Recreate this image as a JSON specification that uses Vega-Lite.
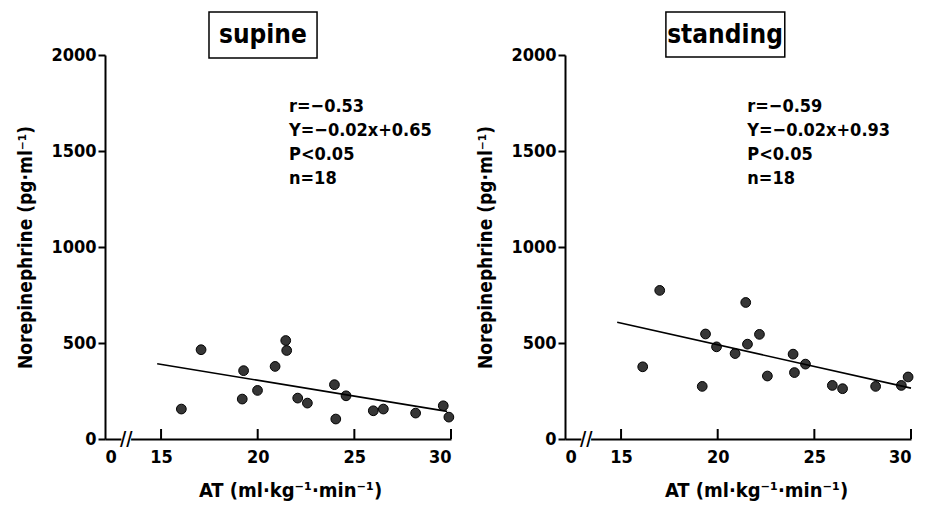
{
  "$schema": "https://vega.github.io/schema/vega-lite/v6.json",
  "padding": {"left": 16, "top": 11, "right": 5, "bottom": 5},
  "background": "white",
  "config": {
    "font": "DejaVu Sans Condensed, Roboto",
    "view": {"stroke": null},
    "concat": {"spacing": 20},
    "text": {"font": "DejaVu Sans Condensed, Roboto"},
    "axis": {
      "grid": false,
      "domainColor": "#000",
      "domainWidth": 2,
      "tickColor": "#000",
      "tickWidth": 2,
      "labelColor": "#000",
      "labelFont": "DejaVu Sans Condensed, Roboto",
      "labelFontWeight": "bold",
      "labelFontSize": 18,
      "titleColor": "#000",
      "titleFont": "DejaVu Sans Condensed, Roboto",
      "titleFontWeight": "bold",
      "titleFontSize": 20
    }
  },
  "datasets": {
    "supine": [
      {"at": 16.05, "ne": 156},
      {"at": 17.07, "ne": 465},
      {"at": 19.27, "ne": 356},
      {"at": 19.2, "ne": 208},
      {"at": 19.99, "ne": 253},
      {"at": 20.9, "ne": 378},
      {"at": 21.45, "ne": 513},
      {"at": 21.5, "ne": 461},
      {"at": 22.07, "ne": 213},
      {"at": 22.57, "ne": 187},
      {"at": 23.97, "ne": 283},
      {"at": 24.04, "ne": 104},
      {"at": 24.57, "ne": 225},
      {"at": 25.98, "ne": 147},
      {"at": 26.5, "ne": 156},
      {"at": 28.17, "ne": 135},
      {"at": 29.6, "ne": 173},
      {"at": 29.89, "ne": 114}
    ],
    "supine_fit": [
      {"at": 14.8, "ne": 392},
      {"at": 29.8, "ne": 144}
    ],
    "standing": [
      {"at": 16.12, "ne": 376},
      {"at": 17.0, "ne": 774},
      {"at": 19.37, "ne": 547},
      {"at": 19.2, "ne": 274},
      {"at": 19.94, "ne": 480},
      {"at": 20.9, "ne": 445},
      {"at": 21.45, "ne": 711},
      {"at": 21.54, "ne": 494},
      {"at": 22.16, "ne": 545},
      {"at": 22.57, "ne": 328},
      {"at": 23.9, "ne": 442},
      {"at": 23.97, "ne": 346},
      {"at": 24.54, "ne": 390},
      {"at": 25.93, "ne": 279},
      {"at": 26.46, "ne": 262},
      {"at": 28.17, "ne": 274},
      {"at": 29.5, "ne": 279},
      {"at": 29.85, "ne": 323}
    ],
    "standing_fit": [
      {"at": 14.8, "ne": 608},
      {"at": 30.0, "ne": 265}
    ]
  },
  "hconcat": [
    {
      "width": 346,
      "height": 384,
      "resolve": {"axis": {"x": "independent", "y": "independent"}},
      "layer": [
        {
          "data": {"name": "supine"},
          "mark": {"type": "circle", "size": 95, "fill": "#363636", "stroke": "#000", "strokeWidth": 1, "opacity": 1},
          "encoding": {
            "x": {
              "field": "at",
              "type": "quantitative",
              "scale": {"domain": [12.1, 30], "nice": false, "zero": false},
              "axis": {
                "orient": "bottom",
                "title": "AT (ml·kg⁻¹·min⁻¹)",
                "values": [12.1, 15, 20, 25, 30],
                "format": "d",
                "labelExpr": "datum.value < 14 ? '0' : datum.label",
                "ticks": false,
                "labelPadding": 9,
                "titleX": 185,
                "titleY": 57,
                "titleBaseline": "alphabetic"
              }
            },
            "y": {
              "field": "ne",
              "type": "quantitative",
              "scale": {"domain": [0, 2000], "nice": false},
              "axis": {
                "orient": "left",
                "title": "Norepinephrine (pg·ml⁻¹)",
                "titleFontSize": 19,
                "values": [0, 500, 1000, 1500, 2000],
                "format": "d",
                "tickSize": 7,
                "labelPadding": 2,
                "titlePadding": 15
              }
            }
          }
        },
        {
          "data": {"name": "supine_fit"},
          "mark": {"type": "line", "color": "#000", "strokeWidth": 1.6},
          "encoding": {
            "x": {"field": "at", "type": "quantitative", "axis": null},
            "y": {"field": "ne", "type": "quantitative", "axis": null}
          }
        },
        {
          "data": {"values": [{"posture": "supine"}]},
          "mark": {"type": "rule", "color": "#000", "strokeWidth": 2},
          "encoding": {
            "x": {"datum": 15, "type": "quantitative", "axis": null},
            "y": {"datum": 0, "type": "quantitative", "axis": null},
            "y2": {"datum": 52}
          }
        },
        {
          "data": {"values": [{"posture": "supine"}]},
          "mark": {"type": "rule", "color": "#000", "strokeWidth": 2},
          "encoding": {
            "x": {"datum": 20, "type": "quantitative", "axis": null},
            "y": {"datum": 0, "type": "quantitative", "axis": null},
            "y2": {"datum": 52}
          }
        },
        {
          "data": {"values": [{"posture": "supine"}]},
          "mark": {"type": "rule", "color": "#000", "strokeWidth": 2},
          "encoding": {
            "x": {"datum": 25, "type": "quantitative", "axis": null},
            "y": {"datum": 0, "type": "quantitative", "axis": null},
            "y2": {"datum": 52}
          }
        },
        {
          "data": {"values": [{"posture": "supine"}]},
          "mark": {"type": "rule", "color": "#000", "strokeWidth": 2},
          "encoding": {
            "x": {"datum": 30, "type": "quantitative", "axis": null},
            "y": {"datum": 0, "type": "quantitative", "axis": null},
            "y2": {"datum": 52}
          }
        },
        {
          "data": {"values": [{"posture": "supine"}]},
          "mark": {"type": "rect", "fill": "white"},
          "encoding": {
            "x": {"datum": 12.95, "type": "quantitative", "axis": null},
            "x2": {"datum": 13.45},
            "y": {"datum": -15, "type": "quantitative", "axis": null},
            "y2": {"datum": 15}
          }
        },
        {
          "data": {"values": [{"posture": "supine"}]},
          "mark": {"type": "text", "text": "//", "fontSize": 19, "fontWeight": "bold", "align": "center", "baseline": "middle"},
          "encoding": {
            "x": {"datum": 13.2, "type": "quantitative", "axis": null},
            "y": {"datum": 0, "type": "quantitative", "axis": null}
          }
        },
        {
          "data": {"values": [{"posture": "supine"}]},
          "mark": {"type": "rect", "fill": "white", "stroke": "#000", "strokeWidth": 1.5},
          "encoding": {
            "x": {"datum": 17.48, "type": "quantitative", "axis": null},
            "x2": {"datum": 23.07},
            "y": {"datum": 2224, "type": "quantitative", "axis": null},
            "y2": {"datum": 1984}
          }
        },
        {
          "data": {"values": [{"posture": "supine"}]},
          "mark": {"type": "text", "fontSize": 26, "fontWeight": "bold", "align": "center", "baseline": "alphabetic"},
          "encoding": {
            "text": {"field": "posture"},
            "x": {"datum": 20.27, "type": "quantitative", "axis": null},
            "y": {"datum": 2065, "type": "quantitative", "axis": null}
          }
        },
        {
          "data": {"values": [{"posture": "supine"}]},
          "mark": {"type": "text", "text": ["r=−0.53", "Y=−0.02x+0.65", "P<0.05", "n=18"], "fontSize": 18, "fontWeight": "bold", "lineHeight": 24, "align": "left", "baseline": "alphabetic"},
          "encoding": {
            "x": {"datum": 21.62, "type": "quantitative", "axis": null},
            "y": {"datum": 1703, "type": "quantitative", "axis": null}
          }
        }
      ]
    },
    {
      "width": 346,
      "height": 384,
      "resolve": {"axis": {"x": "independent", "y": "independent"}},
      "layer": [
        {
          "data": {"name": "standing"},
          "mark": {"type": "circle", "size": 95, "fill": "#363636", "stroke": "#000", "strokeWidth": 1, "opacity": 1},
          "encoding": {
            "x": {
              "field": "at",
              "type": "quantitative",
              "scale": {"domain": [12.1, 30], "nice": false, "zero": false},
              "axis": {
                "orient": "bottom",
                "title": "AT (ml·kg⁻¹·min⁻¹)",
                "values": [12.1, 15, 20, 25, 30],
                "format": "d",
                "labelExpr": "datum.value < 14 ? '0' : datum.label",
                "ticks": false,
                "labelPadding": 9,
                "titleX": 191,
                "titleY": 57,
                "titleBaseline": "alphabetic"
              }
            },
            "y": {
              "field": "ne",
              "type": "quantitative",
              "scale": {"domain": [0, 2000], "nice": false},
              "axis": {
                "orient": "left",
                "title": "Norepinephrine (pg·ml⁻¹)",
                "titleFontSize": 19,
                "values": [0, 500, 1000, 1500, 2000],
                "format": "d",
                "tickSize": 7,
                "labelPadding": 2,
                "titlePadding": 15
              }
            }
          }
        },
        {
          "data": {"name": "standing_fit"},
          "mark": {"type": "line", "color": "#000", "strokeWidth": 1.6},
          "encoding": {
            "x": {"field": "at", "type": "quantitative", "axis": null},
            "y": {"field": "ne", "type": "quantitative", "axis": null}
          }
        },
        {
          "data": {"values": [{"posture": "standing"}]},
          "mark": {"type": "rule", "color": "#000", "strokeWidth": 2},
          "encoding": {
            "x": {"datum": 15, "type": "quantitative", "axis": null},
            "y": {"datum": 0, "type": "quantitative", "axis": null},
            "y2": {"datum": 52}
          }
        },
        {
          "data": {"values": [{"posture": "standing"}]},
          "mark": {"type": "rule", "color": "#000", "strokeWidth": 2},
          "encoding": {
            "x": {"datum": 20, "type": "quantitative", "axis": null},
            "y": {"datum": 0, "type": "quantitative", "axis": null},
            "y2": {"datum": 52}
          }
        },
        {
          "data": {"values": [{"posture": "standing"}]},
          "mark": {"type": "rule", "color": "#000", "strokeWidth": 2},
          "encoding": {
            "x": {"datum": 25, "type": "quantitative", "axis": null},
            "y": {"datum": 0, "type": "quantitative", "axis": null},
            "y2": {"datum": 52}
          }
        },
        {
          "data": {"values": [{"posture": "standing"}]},
          "mark": {"type": "rule", "color": "#000", "strokeWidth": 2},
          "encoding": {
            "x": {"datum": 30, "type": "quantitative", "axis": null},
            "y": {"datum": 0, "type": "quantitative", "axis": null},
            "y2": {"datum": 52}
          }
        },
        {
          "data": {"values": [{"posture": "standing"}]},
          "mark": {"type": "rect", "fill": "white"},
          "encoding": {
            "x": {"datum": 12.95, "type": "quantitative", "axis": null},
            "x2": {"datum": 13.45},
            "y": {"datum": -15, "type": "quantitative", "axis": null},
            "y2": {"datum": 15}
          }
        },
        {
          "data": {"values": [{"posture": "standing"}]},
          "mark": {"type": "text", "text": "//", "fontSize": 19, "fontWeight": "bold", "align": "center", "baseline": "middle"},
          "encoding": {
            "x": {"datum": 13.2, "type": "quantitative", "axis": null},
            "y": {"datum": 0, "type": "quantitative", "axis": null}
          }
        },
        {
          "data": {"values": [{"posture": "standing"}]},
          "mark": {"type": "rect", "fill": "white", "stroke": "#000", "strokeWidth": 1.5},
          "encoding": {
            "x": {"datum": 17.32, "type": "quantitative", "axis": null},
            "x2": {"datum": 23.47},
            "y": {"datum": 2224, "type": "quantitative", "axis": null},
            "y2": {"datum": 1990}
          }
        },
        {
          "data": {"values": [{"posture": "standing"}]},
          "mark": {"type": "text", "fontSize": 26, "fontWeight": "bold", "align": "center", "baseline": "alphabetic"},
          "encoding": {
            "text": {"field": "posture"},
            "x": {"datum": 20.38, "type": "quantitative", "axis": null},
            "y": {"datum": 2065, "type": "quantitative", "axis": null}
          }
        },
        {
          "data": {"values": [{"posture": "standing"}]},
          "mark": {"type": "text", "text": ["r=−0.59", "Y=−0.02x+0.93", "P<0.05", "n=18"], "fontSize": 18, "fontWeight": "bold", "lineHeight": 24, "align": "left", "baseline": "alphabetic"},
          "encoding": {
            "x": {"datum": 21.53, "type": "quantitative", "axis": null},
            "y": {"datum": 1703, "type": "quantitative", "axis": null}
          }
        }
      ]
    }
  ]
}
